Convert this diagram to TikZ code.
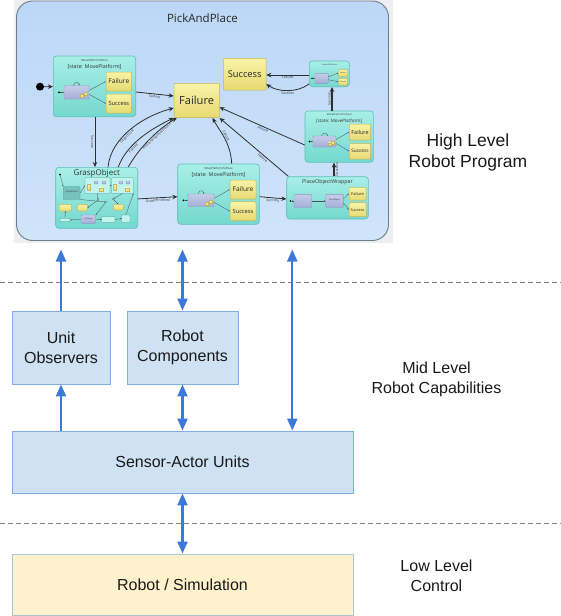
\documentclass[tikz,border=0pt]{standalone}
\usepackage{fontspec}
\setmainfont{Liberation Sans}
\newfontfamily\scr{Open Sans}
\usetikzlibrary{arrows.meta,calc}
\definecolor{boxF}{HTML}{CFE2F3}
\definecolor{boxB}{HTML}{7EAEE3}
\definecolor{rsF}{HTML}{FFF2CC}
\definecolor{rsB}{HTML}{A9C7D3}
\definecolor{arrC}{HTML}{3C78D8}
\definecolor{dashC}{HTML}{808080}
\definecolor{shotBg}{HTML}{EDEEF0}
\definecolor{ppB}{HTML}{6F7C8C}
\definecolor{ppT}{HTML}{BCD7F7}
\definecolor{ppBo}{HTML}{D0E4FA}
\definecolor{stB}{HTML}{5CC0B6}
\definecolor{stT}{HTML}{A8EFE7}
\definecolor{stBo}{HTML}{74D8CE}
\definecolor{yB}{HTML}{C2B658}
\definecolor{yT}{HTML}{F8F3A8}
\definecolor{yBo}{HTML}{E6DA70}
\definecolor{gB}{HTML}{8C97C2}
\definecolor{gT}{HTML}{C6CDEA}
\definecolor{gBo}{HTML}{A3AED6}
\definecolor{edgeC}{HTML}{2E2E2E}
\definecolor{labC}{HTML}{3A3A3A}
\tikzset{
 ppbox/.style={draw=ppB, line width=0.9pt, rounded corners=16pt, top color=ppT, bottom color=ppBo, inner sep=0pt},
 stbox/.style={draw=stB, line width=0.6pt, rounded corners=3pt, top color=stT, bottom color=stBo, inner sep=0pt},
 ybox/.style={draw=yB, line width=0.5pt, rounded corners=1pt, top color=yT, bottom color=yBo, inner sep=0pt, text=black!85},
 gbox/.style={draw=gB, line width=0.4pt, rounded corners=1pt, top color=gT, bottom color=gBo, inner sep=0pt},
 sbox/.style={draw=stB!80!black, line width=0.3pt, rounded corners=0.6pt, fill=stT!70!white, inner sep=0pt},
 dotnode/.style={circle, fill=black, inner sep=0pt, minimum size=#1},
 sedge/.style={draw=edgeC, line width=0.8pt, -{Stealth[length=5pt,width=4.5pt]}},
 fedge/.style={draw=edgeC!85, line width=0.3pt, -{Stealth[length=1.4pt,width=1.2pt]}},
 elab/.style={font=\scr\fontsize{3.6}{4}\selectfont, text=labC, sloped, inner sep=0.8pt},
 ttl/.style={font=\scr\fontsize{#1}{#1}\selectfont, text=black!80, inner sep=0pt},
 midbox/.style={draw=boxB, fill=boxF, line width=0.9pt, inner sep=0pt, align=center, font=\fontsize{16}{20}\selectfont, text=black!90},
 lowbox/.style={draw=rsB, fill=rsF, line width=0.9pt, inner sep=0pt, align=center, font=\fontsize{16}{20}\selectfont, text=black!90},
 barrow/.style={draw=arrC, line width=2.2pt, -{Triangle[width=10pt,length=12pt]}},
 barrows/.style={draw=arrC, line width=2.2pt, {Triangle[width=10pt,length=12pt]}-{Triangle[width=10pt,length=12pt]}},
 lvl/.style={align=center, inner sep=0pt, font=\fontsize{16}{20}\selectfont, text=black!90},
 dashline/.style={draw=dashC, line width=1.2pt, dash pattern=on 4.5pt off 3.5pt},
}
\begin{document}
\begin{tikzpicture}[x=1pt,y=-1pt]
\useasboundingbox (0,0) rectangle (561,616);
% ---------------- screenshot ----------------
\fill[shotBg] (14,0) rectangle (393,243);
\node[ppbox, minimum width=372pt, minimum height=239.5pt] (pp) at (202.5,120.75) {};
\node[font=\scr\fontsize{11.5}{13}\selectfont, text=black!85, inner sep=0pt] (ppT) at (202.5,18.5) {PickAndPlace};

% state boxes
\node[stbox, minimum width=82.4pt, minimum height=60.7pt] (mpick) at (94.5,86.35) {};
\node[stbox, minimum width=82pt, minimum height=61pt] (grasp) at (96.7,197.8) {};
\node[stbox, minimum width=81.6pt, minimum height=60.3pt] (mplace) at (218.5,194.15) {};
\node[stbox, minimum width=81.6pt, minimum height=42.3pt] (pow) at (327.5,197.85) {};
\node[stbox, minimum width=68.3pt, minimum height=51.3pt] (mfinal) at (339.15,136.65) {};
\node[stbox, minimum width=40pt, minimum height=25.7pt] (inv) at (329.3,73.85) {};
\node[ybox, minimum width=45.3pt, minimum height=34.4pt, font=\scr\fontsize{11.1}{12}\selectfont] (fail) at (196.65,100.5) {Failure};
\node[ybox, minimum width=42.7pt, minimum height=31.7pt, font=\scr\fontsize{9.3}{10}\selectfont] (succ) at (244.65,74.15) {Success};
\node[dotnode=8pt] (init) at (40,86.7) {};

% MovePlatformToPick
\node[ttl=2.8] (mpickT) at (94.5,60.5) {MovePlatformToPick};
\node[ttl=5.3] (mpickST) at (94.5,67) {[state: MovePlatform]};
\node[ybox, minimum width=25.7pt, minimum height=19pt, font=\scr\fontsize{6.6}{7}\selectfont] (mpickF) at (118.85,81.5) {Failure};
\node[ybox, minimum width=25.7pt, minimum height=19pt, font=\scr\fontsize{5.7}{6}\selectfont] (mpickS) at (118.85,103.5) {Success};
\node[gbox, minimum width=25pt, minimum height=13.3pt] (mpickG) at (76.5,92.35) {};
\node[ybox, minimum width=3pt, minimum height=3pt, rounded corners=0pt] (mpickG1) at (82,95.8) {};
\node[ybox, minimum width=3pt, minimum height=3pt, rounded corners=0pt] (mpickG2) at (85.5,94.2) {};
\node[dotnode=2pt] (mpickD) at (59,92.35) {};
\draw[fedge] (mpickD) -- (mpickG);
\draw[fedge] ([yshift=2pt]mpickG.east) -- (mpickF.west);
\draw[fedge] ([yshift=-2pt]mpickG.east) -- (mpickS.west);
\draw[fedge] ([xshift=-3pt]mpickG.north) .. controls +(1,-4) and +(-1,-4) .. ([xshift=3pt]mpickG.north);

% MovePlatformToPlace
\node[ttl=2.8] (mplaceT) at (218.5,168) {MovePlatformToPlace};
\node[ttl=5.3] (mplaceST) at (218.5,175) {[state: MovePlatform]};
\node[ybox, minimum width=26pt, minimum height=19pt, font=\scr\fontsize{6.6}{7}\selectfont] (mplaceF) at (243,189.5) {Failure};
\node[ybox, minimum width=26pt, minimum height=19pt, font=\scr\fontsize{5.7}{6}\selectfont] (mplaceS) at (243,211.2) {Success};
\node[gbox, minimum width=26pt, minimum height=12.7pt] (mplaceG) at (201,200.35) {};
\node[ybox, minimum width=3pt, minimum height=3pt, rounded corners=0pt] (mplaceG1) at (207,203.5) {};
\node[ybox, minimum width=3pt, minimum height=3pt, rounded corners=0pt] (mplaceG2) at (210.5,202) {};
\node[dotnode=2pt] (mplaceD) at (183.5,200.35) {};
\draw[fedge] (mplaceD) -- (mplaceG);
\draw[fedge] ([yshift=2pt]mplaceG.east) -- (mplaceF.west);
\draw[fedge] ([yshift=-2pt]mplaceG.east) -- (mplaceS.west);
\draw[fedge] ([xshift=-3pt]mplaceG.north) .. controls +(1,-4) and +(-1,-4) .. ([xshift=3pt]mplaceG.north);

% MovePlatformToFinal
\node[ttl=2.5] (mfinalT) at (339.15,114.3) {MovePlatformToFinal};
\node[ttl=4.5] (mfinalST) at (339.15,120.7) {[state: MovePlatform]};
\node[ybox, minimum width=21.4pt, minimum height=16pt, font=\scr\fontsize{5.5}{6}\selectfont] (mfinalF) at (360,132) {Failure};
\node[ybox, minimum width=21.4pt, minimum height=15.7pt, font=\scr\fontsize{4.8}{5}\selectfont] (mfinalS) at (360,151.15) {Success};
\node[gbox, minimum width=23pt, minimum height=11pt] (mfinalG) at (324.5,141.5) {};
\node[ybox, minimum width=2.6pt, minimum height=2.6pt, rounded corners=0pt] (mfinalG1) at (330,144.2) {};
\node[ybox, minimum width=2.6pt, minimum height=2.6pt, rounded corners=0pt] (mfinalG2) at (333,142.8) {};
\node[dotnode=2pt] (mfinalD) at (309.5,141.5) {};
\draw[fedge] (mfinalD) -- (mfinalG);
\draw[fedge] ([yshift=2pt]mfinalG.east) -- (mfinalF.west);
\draw[fedge] ([yshift=-2pt]mfinalG.east) -- (mfinalS.west);
\draw[fedge] ([xshift=-3pt]mfinalG.north) .. controls +(1,-3.5) and +(-1,-3.5) .. ([xshift=3pt]mfinalG.north);

% PlaceObjectWrapper
\node[ttl=5.3] (powT) at (327.5,182.5) {PlaceObjectWrapper};
\node[gbox, minimum width=17.7pt, minimum height=13.4pt] (powG1) at (302.85,201) {};
\node[gbox, minimum width=17.6pt, minimum height=13.4pt] (powG2) at (334.5,201) {};
\node[ttl=2] (powG2T) at (334.5,199.5) {PlaceObject};
\node[ybox, minimum width=17pt, minimum height=12.7pt, font=\scr\fontsize{4}{4}\selectfont] (powF) at (357.5,193.65) {Failure};
\node[ybox, minimum width=17pt, minimum height=14pt, font=\scr\fontsize{3.8}{4}\selectfont] (powS) at (357.5,209.7) {Success};
\node[dotnode=1.6pt] (powD) at (290.5,201) {};
\draw[fedge] (powG1.west) -- (powD);
\draw[fedge] (powG1) -- (powG2);
\draw[fedge] ([yshift=2pt]powG2.east) -- (powF.west);
\draw[fedge] ([yshift=-2pt]powG2.east) -- (powS.west);

% InvokeOnFailure (small)
\node[ttl=2] (invT) at (329.3,64.3) {InvokeOnFailure};
\node[gbox, minimum width=13.3pt, minimum height=10pt] (invG) at (321.65,78.3) {};
\node[ybox, minimum width=9.4pt, minimum height=7.4pt, font=\scr\fontsize{1.8}{2}\selectfont] (invY1) at (343,73) {Failure};
\node[ybox, minimum width=9.4pt, minimum height=6.7pt, font=\scr\fontsize{1.8}{2}\selectfont] (invY2) at (343,81.65) {Success};
\node[dotnode=1.6pt] (invD) at (312,78.3) {};
\draw[fedge] (invD) -- (invG);
\draw[fedge] ([yshift=1.5pt]invG.east) -- (invY1.west);
\draw[fedge] ([yshift=-1.5pt]invG.east) -- (invY2.west);

% GraspObject (internals)
\node[ttl=8] (graspT) at (96.7,173.5) {GraspObject};
\node[dotnode=2pt] (gD) at (60,174.5) {};
\node[sbox, minimum width=16.7pt, minimum height=12.6pt, fill=stBo!75!gray] (gOpen) at (71.65,193) {};
\node[ttl=2.4] (gOpenT) at (71.65,191.8) {OpenHand};
\node[sbox, minimum width=25pt, minimum height=15.6pt] (gSub1) at (97.5,185.5) {};
\node[sbox, minimum width=21.6pt, minimum height=15.6pt] (gSub2) at (122.5,185.5) {};
\node[ybox, minimum width=2.5pt, minimum height=5.5pt, rounded corners=0pt] (g1a) at (88.5,187) {};
\node[gbox, minimum width=4pt, minimum height=3pt] (g1b) at (96,182.5) {};
\node[gbox, minimum width=4pt, minimum height=3pt] (g1c) at (104,182.5) {};
\node[ybox, minimum width=4pt, minimum height=3.5pt, rounded corners=0pt] (g1d) at (101,189.5) {};
\node[ybox, minimum width=2.5pt, minimum height=5.5pt, rounded corners=0pt] (g2a) at (114.5,187) {};
\node[gbox, minimum width=4pt, minimum height=3pt] (g2b) at (121,182.5) {};
\node[gbox, minimum width=4pt, minimum height=3pt] (g2c) at (128,182.5) {};
\node[ybox, minimum width=4pt, minimum height=3.5pt, rounded corners=0pt] (g2d) at (127,189.5) {};
\node[ybox, minimum width=12.7pt, minimum height=6.7pt] (gY1) at (65.35,207.65) {};
\node[ybox, minimum width=9.6pt, minimum height=6.7pt] (gY2) at (82.5,207.65) {};
\node[ybox, minimum width=10pt, minimum height=5.7pt] (gY3) at (118.3,207.15) {};
\node[gbox, minimum width=14.7pt, minimum height=8.3pt] (gLift) at (88.35,219.15) {};
\node[ttl=2] (gLiftT) at (88.35,219.15) {LiftHand};
\node[sbox, minimum width=13.3pt, minimum height=5.6pt] (gT1) at (108.35,219.5) {};
\node[sbox, minimum width=8.3pt, minimum height=7.3pt] (gT2) at (125.85,218.65) {};
\node[sbox, minimum width=10pt, minimum height=3.4pt] (gT3) at (65,220) {};
\node[dotnode=1.2pt] (gJ1) at (98,200) {};
\node[dotnode=1.2pt] (gJ2) at (106,202) {};
\node[dotnode=1.2pt] (gJ3) at (113,199) {};
\draw[fedge] (gD) -- (gOpen.north west);
\draw[fedge] (gOpen.east) -- (gSub1.west);
\draw[fedge] (gSub1.east) -- (gSub2.west);
\draw[fedge] (gSub1.south) -- (gJ1);
\draw[fedge] (gSub2.south) -- (gJ3);
\draw[fedge] (gJ1) -- (gY2.east);
\draw[fedge] (gJ3) -- (gY3.north);
\draw[fedge] (gJ2) -- (gLift.north east);
\draw[fedge] (gLift.east) -- (gT1.west);
\draw[fedge] (gT1.east) -- (gT2.west);
\draw[fedge] (gT2.north) -- (gSub2.south east);
\draw[fedge] (gLift.west) -- (gT3.east);
\draw[fedge] (gT3.north) -- (gY1.south);
\draw[fedge] (gOpen.south east) -- (gJ2);

% transitions
\draw[sedge] (init) -- (mpick);
\draw[sedge] ([yshift=-5.65pt]mpick.east) -- node[elab, below] (l1) {Failure} ([yshift=4.5pt]fail.west);
\draw[sedge] ([xshift=0.5pt]mpick.south) -- node[elab, below] (l2) {Success} ([xshift=-1.7pt]grasp.north);
\draw[sedge] ([xshift=11.3pt]grasp.north) .. controls +(3,-30) and +(-30,8) .. node[elab, below, pos=0.42] (l3) {ObjectLost} ([yshift=-7.5pt]fail.west);
\draw[sedge] ([xshift=21.6pt]grasp.north) .. controls +(8,-22) and +(-25,12) .. node[elab, below, pos=0.35] (l4) {Failure} (fail.south west);
\draw[sedge] ([xshift=31.6pt]grasp.north) .. controls +(10,-18) and +(-20,12) .. node[elab, below, pos=0.62, font=\scr\fontsize{3.2}{3.5}\selectfont] (l5) {NoGraspingObjectFound} ([xshift=3pt]fail.south west);
\draw[sedge] ([yshift=-1.1pt]grasp.east) -- node[elab, below] (l6) {GraspFinished} ([yshift=-2.55pt]mplace.west);
\draw[sedge] ([xshift=13.2pt]mplace.north) .. controls +(-1,-22) and +(6,12) .. node[elab, above, pos=0.5] (l7) {Failure} ([xshift=16pt]fail.south);
\draw[sedge] ([yshift=-2.55pt]mplace.east) -- node[elab, below] (l8) {Success} ([yshift=-1.15pt]pow.west);
\draw[sedge] ([xshift=2pt]pow.north west) -- node[elab, below, pos=0.35] (l9) {Failure} (fail.south east);
\draw[sedge] ([yshift=-8.35pt]mfinal.west) -- node[elab, below, pos=0.48] (l10) {Failure} ([yshift=-6.8pt]fail.east);
\draw[sedge, line width=1.3pt] ([xshift=6.5pt]pow.north) -- node[elab, below] (l11) {Success} ([xshift=-5.15pt]mfinal.south);
\draw[sedge, line width=1.1pt] ([xshift=-7.15pt]mfinal.north) -- node[elab, above] (l12) {Success} ([xshift=2.7pt]inv.south);
\draw[sedge] ([yshift=-1.15pt]inv.west) -- node[elab, below, sloped=false] (l13) {Failure} ([yshift=-0.85pt]succ.east);
\draw[sedge] ([yshift=3pt]inv.south west) .. controls +(-12,9) and +(12,8) .. node[elab, below, sloped=false, pos=0.5] (l14) {Success} ([yshift=-10pt]succ.east);

% ---------------- lower architecture ----------------
\coordinate (d1l) at (0,282.5);
\coordinate (d1r) at (561,282.5);
\coordinate (d2l) at (0,523.3);
\coordinate (d2r) at (561,523.3);
\draw[dashline] (d1l) -- (d1r);
\draw[dashline] (d2l) -- (d2r);

\node[midbox, minimum width=98pt, minimum height=73pt] (uo) at (61,347.5) {Unit\\Observers};
\node[midbox, minimum width=111pt, minimum height=73pt] (rc) at (182.5,347.5) {Robot\\Components};
\node[midbox, minimum width=341pt, minimum height=62pt] (sau) at (182.5,462) {Sensor-Actor Units};
\node[lowbox, minimum width=341pt, minimum height=61pt] (rs) at (182.5,584.5) {Robot / Simulation};

\coordinate (tA) at (61,249.5);
\coordinate (tB) at (182.5,249.5);
\coordinate (tC) at (292.3,249.5);
\draw[barrow] (uo.north) -- (tA);
\draw[barrow] (uo.south |- sau.north) -- (uo.south);
\draw[barrows] (rc.north) -- (tB);
\draw[barrows] (rc.south |- sau.north) -- (rc.south);
\draw[barrows] (tC |- sau.north) -- (tC);
\draw[barrows] (sau.south) -- (rs.north);

\node[lvl, font=\fontsize{17.5}{21}\selectfont] (hl) at (468,152.5) {High Level\\Robot Program};
\node[lvl] (ml) at (436.5,379.3) {Mid Level\\Robot Capabilities};
\node[lvl] (ll) at (436.5,576) {Low Level\\Control};
\end{tikzpicture}
\end{document}
